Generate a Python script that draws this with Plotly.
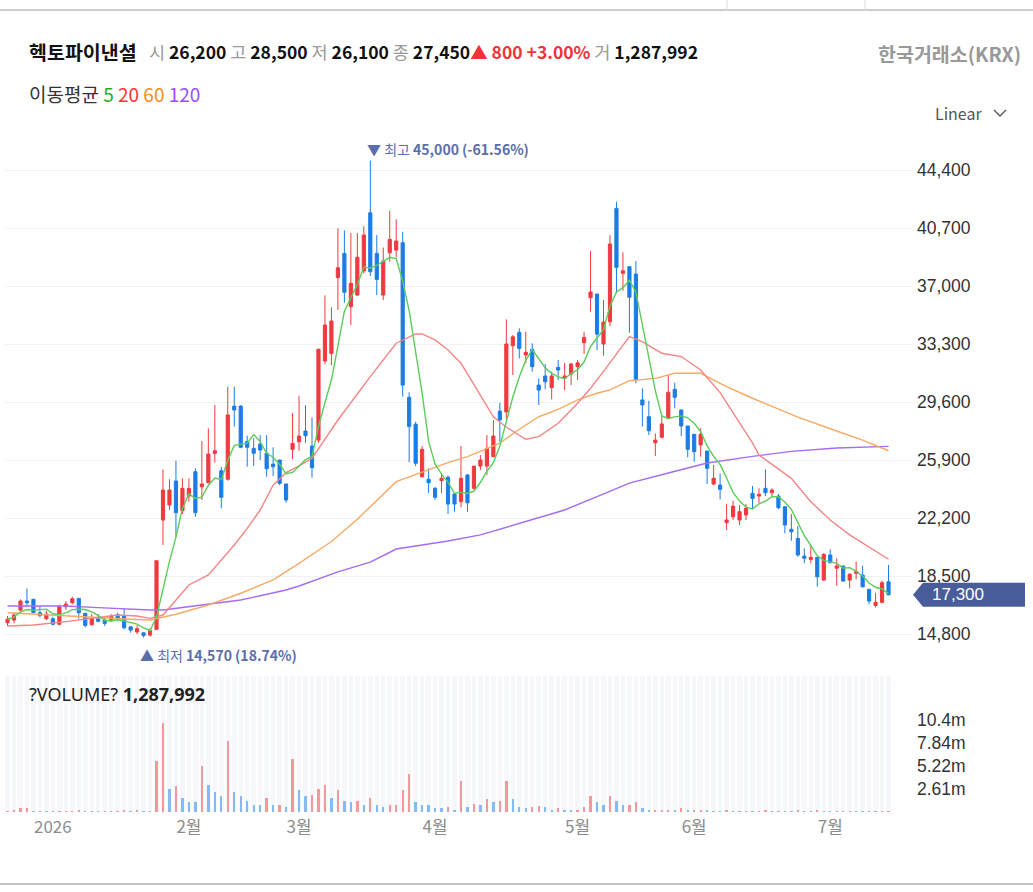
import pandas as pd
import plotly.graph_objects as go

# ---- data ----
stock_name = "헥토파이낸셜"
exchange = "한국거래소(KRX)"
hdr_open, hdr_high, hdr_low, hdr_close = 26200, 28500, 26100, 27450
hdr_change, hdr_pct, hdr_volume = 800, 3.00, 1287992

holidays = ["2025-12-25", "2025-12-31", "2026-01-01", "2026-02-16", "2026-02-17",
            "2026-02-18", "2026-03-02", "2026-05-01", "2026-05-05", "2026-05-25",
            "2026-06-03"]
days = pd.bdate_range("2025-12-19", "2026-07-14")
days = days[~days.isin(pd.to_datetime(holidays))]

open_ = [
    15520, 15690, 16330, 16900, 17010, 16160, 15770, 15770, 15420, 16540,
    16800, 17070, 16120, 15390, 15770, 15690, 15730, 16030, 15950, 15260,
    14930, 14880, 14730, 15100, 22070, 23030, 24560, 22660, 23600, 25150,
    24190, 24450, 26320, 25220, 24670, 29340, 29340, 27070, 26640, 26920,
    26330, 25640, 25900, 24370, 26580, 27060, 27750, 26790, 27170, 32210,
    32700, 37530, 39080, 35680, 36420, 37960, 41670, 39080, 36420, 39120,
    39290, 39760, 29900, 28180, 24830, 24670, 24090, 24580, 24800, 23730,
    23240, 24940, 24090, 25510, 25510, 26110, 29020, 28970, 33190, 34040,
    32600, 32960, 30680, 31260, 30530, 31810, 31110, 31380, 31850, 33380,
    36250, 36490, 33300, 34720, 41950, 37810, 38230, 37760, 29730, 28660,
    27000, 27350, 28560, 30410, 29090, 28070, 27540, 26860, 26470, 24370,
    24300, 21900, 22280, 22070, 22390, 23770, 23600, 24090, 23810, 23600,
    22920, 21480, 20900, 19770, 19560, 19690, 18240, 19840, 19000, 19140,
    18240, 18670, 18560, 17650, 16620, 16820, 18130]
high = [
    15950, 16160, 17010, 17710, 17050, 16540, 16280, 15900, 16670, 16900,
    17180, 17070, 16120, 16070, 16070, 15860, 16070, 16160, 16440, 15260,
    15350, 14880, 15140, 19500, 25300, 24670, 25850, 24730, 24730, 25370,
    27110, 27920, 29410, 25470, 30580, 30580, 29400, 27450, 27280, 27490,
    27490, 26710, 25900, 24370, 28880, 29980, 29390, 28620, 33000, 36400,
    35640, 40680, 40550, 40380, 40380, 40820, 45000, 40250, 39460, 41800,
    41250, 40460, 30220, 28340, 26790, 25370, 24190, 25050, 24900, 23730,
    26790, 25010, 25520, 26220, 27490, 28450, 29550, 34870, 33870, 34300,
    34080, 33340, 31110, 32020, 31530, 32280, 32100, 32100, 32280, 34080,
    39230, 36490, 36110, 40250, 42380, 39150, 38230, 38590, 30470, 29680,
    27600, 28770, 31320, 30830, 29090, 28070, 27540, 27920, 26470, 25580,
    25050, 23090, 23300, 23030, 23090, 24240, 24090, 25300, 24090, 23730,
    22920, 22450, 21690, 20260, 20410, 19690, 19950, 20200, 19630, 19140,
    18670, 19410, 19160, 17650, 17430, 18200, 19200]
low = [
    15310, 15480, 16160, 16540, 16130, 15860, 15690, 15350, 15350, 16330,
    16690, 15770, 15230, 15350, 15560, 15310, 15560, 15610, 15100, 14880,
    14800, 14570, 14630, 15050, 20480, 22710, 20970, 22450, 23240, 22280,
    23350, 24410, 25730, 22820, 24580, 28030, 26650, 25470, 25520, 25900,
    24830, 24880, 24300, 23170, 25940, 26490, 27000, 24770, 27000, 32000,
    31940, 35470, 35930, 34510, 36380, 37810, 37640, 36420, 36100, 38550,
    38830, 29940, 25750, 25510, 24790, 23810, 23350, 23770, 22450, 22600,
    22880, 22600, 23980, 25260, 24940, 26110, 27070, 28490, 31320, 32380,
    32070, 31530, 29410, 30410, 29770, 31000, 30360, 30680, 31000, 32660,
    35360, 32910, 32550, 34440, 36530, 36700, 34020, 30790, 28030, 27490,
    26150, 27280, 28490, 29200, 27430, 26070, 25790, 26110, 24370, 24300,
    23390, 21430, 22070, 21750, 22070, 22820, 23170, 23600, 23600, 22750,
    21220, 20750, 19730, 19310, 19310, 17810, 18200, 19310, 17880, 18130,
    17710, 18290, 17780, 16700, 16500, 16760, 17270]
close = [
    15740, 16010, 16900, 16800, 16160, 15990, 16070, 15420, 16540, 16710,
    17050, 16160, 15350, 15770, 15610, 15480, 15950, 15820, 15200, 15050,
    15140, 14710, 15010, 19470, 23980, 23980, 22540, 24090, 24090, 22540,
    24370, 26280, 26490, 23520, 28770, 29090, 26710, 26710, 26330, 26540,
    25340, 25470, 24410, 23350, 26960, 27430, 27450, 25410, 32960, 34510,
    34760, 38160, 36600, 37170, 38830, 40250, 37910, 37420, 38590, 39970,
    39870, 30680, 28030, 25690, 26580, 24450, 23520, 24730, 23090, 23090,
    24730, 23170, 25510, 25900, 26640, 27430, 28450, 33300, 33760, 33020,
    32770, 31850, 30360, 30890, 31260, 31640, 31260, 32020, 32100, 33720,
    36620, 33930, 34700, 39680, 38190, 37970, 36280, 31000, 29410, 27770,
    27170, 28200, 30220, 29900, 28070, 26580, 26430, 27540, 25370, 24730,
    24030, 22070, 22960, 22600, 22820, 23450, 23710, 23810, 23980, 22860,
    21750, 21320, 19840, 19630, 19690, 18450, 19880, 19350, 19140, 18180,
    18610, 18770, 17810, 16900, 16820, 18070, 17300]
volume_m = [
    0.10, 0.15, 0.45, 0.46, 0.08, 0.07, 0.06, 0.05, 0.06, 0.07,
    0.08, 0.20, 0.07, 0.06, 0.05, 0.04, 0.05, 0.06, 0.20, 0.06,
    0.20, 0.08, 0.07, 5.83, 10.10, 2.61, 2.99, 1.59, 1.10, 1.08,
    5.18, 3.10, 2.27, 1.78, 8.10, 2.27, 1.78, 1.21, 0.76, 0.75,
    1.59, 0.76, 0.79, 0.57, 6.05, 2.46, 1.78, 1.89, 2.61, 3.10,
    1.59, 2.46, 1.29, 1.10, 1.29, 0.76, 1.59, 0.76, 0.57, 0.76,
    0.78, 2.46, 4.31, 1.10, 0.76, 0.75, 0.45, 0.42, 0.55, 0.23,
    3.48, 0.53, 0.91, 0.76, 1.44, 1.10, 1.21, 3.48, 1.44, 0.53,
    0.42, 0.53, 0.72, 0.53, 0.23, 0.42, 0.23, 0.22, 0.24, 0.53,
    1.78, 1.10, 0.76, 1.78, 1.21, 0.76, 0.80, 1.10, 0.42, 0.23,
    0.24, 0.25, 0.26, 0.23, 0.42, 0.23, 0.24, 0.25, 0.23, 0.08,
    0.07, 0.22, 0.08, 0.06, 0.07, 0.08, 0.06, 0.22, 0.07, 0.08,
    0.09, 0.07, 0.20, 0.08, 0.07, 0.22, 0.08, 0.07, 0.08, 0.09,
    0.10, 0.07, 0.06, 0.05, 0.04, 0.05, 0.10]

# moving averages (index of candle, value)
ma20_idx = [0, 4, 9, 14, 17, 20, 22, 24, 26, 28, 31, 33, 35, 37, 39, 41, 43, 45, 47, 51,
            56, 60, 63, 64, 66, 68, 70, 71, 73, 75, 77, 80, 82, 85, 88, 90, 92, 96, 98,
            101, 104, 107, 110, 112, 115, 116, 121, 124, 127, 130, 133, 136]
ma20_val = [15310, 15370, 15590, 15870, 16010, 15950, 15800, 16010, 16970, 17930, 18570,
            19520, 20480, 21540, 22710, 24300, 25090, 25520, 26010, 28450, 31220, 33350,
            33940, 33940, 33560, 32920, 32070, 31400, 30000, 28660, 27990, 27220, 27390,
            28240, 29520, 30480, 31550, 33770, 33450, 32710, 32500, 31640, 30200, 28900,
            27000, 26220, 24730, 23240, 22070, 21120, 20370, 19570]
ma60_idx = [0, 9, 14, 19, 22, 26, 31, 36, 41, 45, 50, 54, 60, 64, 68, 71, 76, 79, 82, 85,
            88, 91, 93, 96, 100, 103, 107, 108, 111, 115, 122, 128, 132, 136]
ma60_val = [16160, 15950, 15820, 15740, 15690, 16060, 16650, 17400, 18250, 19310, 20700,
            22120, 24520, 25150, 25730, 26110, 26970, 27860, 28660, 29130, 29730, 30160,
            30370, 30960, 31110, 31430, 31430, 31220, 30580, 29840, 28640, 27750, 27170,
            26490]
ma120_idx = [0, 9, 14, 19, 22, 24, 28, 33, 36, 39, 43, 45, 51, 56, 60, 64, 68, 73, 81, 86,
             91, 96, 102, 108, 115, 121, 128, 136]
ma120_val = [16590, 16590, 16480, 16380, 16330, 16330, 16540, 16820, 16970, 17240, 17610,
             17860, 18760, 19390, 20220, 20480, 20730, 21120, 22120, 22710, 23560, 24430,
             25070, 25710, 26130, 26450, 26670, 26770]

price_ticks = [14800, 18500, 22200, 25900, 29600, 33300, 37000, 40700, 44400]
vol_ticks = [2.61e6, 5.22e6, 7.84e6, 10.4e6]
vol_tick_text = ["2.61m", "5.22m", "7.84m", "10.4m"]

# ---- colours ----
RED, BLUE = "#EF3A3F", "#1C7CE6"
VRED, VBLUE = "#F2999C", "#85BBF2"
C5, C20, C60, C120 = "#5ACD5A", "#F58585", "#F7AA66", "#A56CF2"
NAVY = "#4A5D9B"
KFONT = "Noto Sans CJK KR"
NFONT = "Liberation Sans"

x = list(range(len(close)))
volume = [v * 1e6 for v in volume_m]
ma5 = pd.Series(close).rolling(5, min_periods=1).mean()
vol_colors = [VRED if i == 0 or volume[i] > volume[i - 1] else VBLUE for i in x]

# month ticks: first trading day of every month (skip the partial first month)
dser = pd.Series(days)
firsts = dser.groupby([dser.dt.year, dser.dt.month]).head(1)
month_idx = list(firsts.index[1:])
month_lbl = [str(d.year) if d.month == 1 else f"{d.month}월" for d in firsts.iloc[1:]]

# pixel layout of the page
W, H = 1033, 892
PL, PR, PT, PB = 5, 912, 130, 812
step = 6.478                      # px per trading day
x0 = -0.39                        # index at the left edge of the plot


def fx(px):
    return (px - PL) / (PR - PL)


def fy(py):
    return (PB - py) / (PB - PT)


price_top, price_bot = 130, 662
px_per_won = (634 - 170) / (44400 - 14800)
y_hi = 14800 + (634 - price_top) / px_per_won
y_lo = 14800 - (price_bot - 634) / px_per_won
vol_top = 676
vol_max = (PB - vol_top) / 23 * 2.61e6

fig = go.Figure()
fig.add_trace(go.Candlestick(
    x=x, open=open_, high=high, low=low, close=close,
    increasing=dict(line=dict(color=RED, width=1), fillcolor=RED),
    decreasing=dict(line=dict(color=BLUE, width=1), fillcolor=BLUE),
    whiskerwidth=0, xaxis="x", yaxis="y", hoverinfo="skip"))
for ix, vals, col in [(ma120_idx, ma120_val, C120), (ma60_idx, ma60_val, C60),
                      (ma20_idx, ma20_val, C20)]:
    fig.add_trace(go.Scatter(x=ix, y=vals, mode="lines", line=dict(color=col, width=1.4),
                             xaxis="x", yaxis="y", hoverinfo="skip"))
fig.add_trace(go.Scatter(x=x, y=ma5, mode="lines", line=dict(color=C5, width=1.4),
                         xaxis="x", yaxis="y", hoverinfo="skip"))
fig.add_trace(go.Bar(x=x, y=volume, marker=dict(color=vol_colors, line=dict(width=0)),
                     width=0.36, xaxis="x2", yaxis="y2", hoverinfo="skip"))

xr = [x0, x0 + (PR - PL) / step]
fig.update_layout(
    width=W, height=H, showlegend=False,
    paper_bgcolor="white", plot_bgcolor="white",
    margin=dict(l=PL, r=W - PR, t=PT, b=H - PB),
    font=dict(family=KFONT, color="#333"),
    bargap=0,
    xaxis=dict(domain=[0, 1], range=xr, anchor="y", showgrid=False, zeroline=False,
               showticklabels=False, rangeslider=dict(visible=False), fixedrange=True),
    xaxis2=dict(domain=[0, 1], range=xr, anchor="y2", matches="x", showgrid=False,
                zeroline=False, tickmode="array", tickvals=month_idx, ticktext=month_lbl,
                ticks="", ticklabelstandoff=3,
                tickfont=dict(size=17, color="#8c8c8c", family=KFONT),
                minor=dict(tickmode="linear", tick0=0.5, dtick=1, showgrid=True,
                           gridcolor="white", gridwidth=2, ticks="")),
    yaxis=dict(domain=[fy(price_bot), 1], range=[y_lo, y_hi], side="right", anchor="x",
               tickmode="array", tickvals=price_ticks,
               ticktext=[f"{v:,}" for v in price_ticks],
               gridcolor="#EFF1F5", gridwidth=1, zeroline=False, ticks="",
               ticklabelstandoff=4, tickfont=dict(size=17.5, color="#333", family=NFONT)),
    yaxis2=dict(domain=[0, fy(vol_top)], range=[0, vol_max], side="right", anchor="x2",
                tickmode="array", tickvals=vol_ticks, ticktext=vol_tick_text,
                showgrid=False, zeroline=False, ticks="", ticklabelstandoff=4,
                tickfont=dict(size=17.5, color="#333", family=NFONT)),
)

# pale striped background of the volume panel (stops after the last candle)
fig.add_shape(type="rect", xref="x2", yref="y2 domain", x0=x0, x1=len(x) - 0.3, y0=0, y1=1,
              fillcolor="#F5F7FB", line=dict(width=0), layer="below")

# page frame lines
fig.add_shape(type="line", xref="paper", yref="paper", x0=fx(0), x1=fx(W), y0=fy(10), y1=fy(10),
              line=dict(color="#9a9a9a", width=1))
fig.add_shape(type="line", xref="paper", yref="paper", x0=fx(0), x1=fx(W), y0=fy(884), y1=fy(884),
              line=dict(color="#8a8a8a", width=1))
for vx in [727, 865]:
    fig.add_shape(type="line", xref="paper", yref="paper", x0=fx(vx), x1=fx(vx), y0=fy(0),
                  y1=fy(10), line=dict(color="#dddddd", width=1))

# header
fig.add_annotation(text=f"<b>{stock_name}</b>", xref="paper", yref="paper", x=fx(27), y=fy(51),
                   xanchor="left", yanchor="middle", showarrow=False,
                   font=dict(size=19.5, color="#111", family=KFONT))
g = "<span style='color:#999'>{}</span>"
quote = (g.format("시") + f" <b>{hdr_open:,}</b> "
         + g.format("고") + f" <b>{hdr_high:,}</b> " + g.format("저") + f" <b>{hdr_low:,}</b> "
         + g.format("종") + f" <b>{hdr_close:,}</b>"
         + f"<span style='color:#F0323B'><b>▲ {hdr_change:,} +{hdr_pct:.2f}%</b></span> "
         + g.format("거") + f" <b>{hdr_volume:,}</b>")
fig.add_annotation(text=quote, xref="paper", yref="paper", x=fx(147), y=fy(51),
                   xanchor="left", yanchor="middle", showarrow=False,
                   font=dict(size=17.5, color="#111", family=KFONT))
fig.add_annotation(text=f"<b>{exchange}</b>", xref="paper", yref="paper", x=fx(1023), y=fy(53),
                   xanchor="right", yanchor="middle", showarrow=False,
                   font=dict(size=19.5, color="#999", family=KFONT))
ma_legend = ("이동평균 <span style='color:#22B022'>5</span> <span style='color:#F33'>20</span> "
             "<span style='color:#F98B1A'>60</span> <span style='color:#9A4DFF'>120</span>")
fig.add_annotation(text=ma_legend, xref="paper", yref="paper", x=fx(27), y=fy(93),
                   xanchor="left", yanchor="middle", showarrow=False,
                   font=dict(size=19, color="#333", family=KFONT))
fig.add_annotation(text="Linear", xref="paper", yref="paper", x=fx(984), y=fy(113),
                   xanchor="right", yanchor="middle", showarrow=False,
                   font=dict(size=16, color="#555", family=KFONT))
fig.add_shape(type="path", xref="paper", yref="paper",
              path=f"M {fx(994)},{fy(110)} L {fx(1000)},{fy(116)} L {fx(1006)},{fy(110)}",
              line=dict(color="#555", width=1.3))

# highest / lowest markers
hi_i = high.index(max(high))
lo_i = low.index(min(low))
last = close[-1]
fig.add_annotation(x=hi_i, y=high[hi_i], xref="x", yref="y", xanchor="left", yanchor="bottom",
                   xshift=-5, yshift=0, showarrow=False,
                   text=f"▼ 최고 <b>{high[hi_i]:,} ({(last - high[hi_i]) / high[hi_i] * 100:.2f}%)</b>",
                   font=dict(size=14, color="#5B6EAB", family=KFONT))
fig.add_annotation(x=lo_i, y=low[lo_i], xref="x", yref="y", xanchor="left", yanchor="top",
                   xshift=-6, yshift=-5, showarrow=False,
                   text=f"▲ 최저 <b>{low[lo_i]:,} ({(last - low[lo_i]) / low[lo_i] * 100:.2f}%)</b>",
                   font=dict(size=14, color="#5B6EAB", family=KFONT))

# volume caption
fig.add_annotation(text=f"?VOLUME? <b>{hdr_volume:,}</b>", xref="paper", yref="paper",
                   x=fx(27), y=fy(694), xanchor="left", yanchor="middle", showarrow=False,
                   font=dict(size=18, color="#222", family="Noto Sans"))

# current price tag on the right axis
half = 12 / px_per_won
tip, base, right = fx(913), fx(923), fx(1025)
fig.add_shape(type="path", xref="paper", yref="y", fillcolor=NAVY, line=dict(width=0),
              path=(f"M {tip},{last} L {base},{last + half} L {right},{last + half} "
                    f"L {right},{last - half} L {base},{last - half} Z"))
fig.add_annotation(text=f"{last:,}", xref="paper", yref="y", x=fx(958), y=last,
                   xanchor="center", yanchor="middle", showarrow=False,
                   font=dict(size=17, color="white", family=NFONT))

# page has no body margin so the chart sits at the window origin
fig.write_html("out.html", config={"displayModeBar": False},
               post_script="document.body.style.margin='0px';")
